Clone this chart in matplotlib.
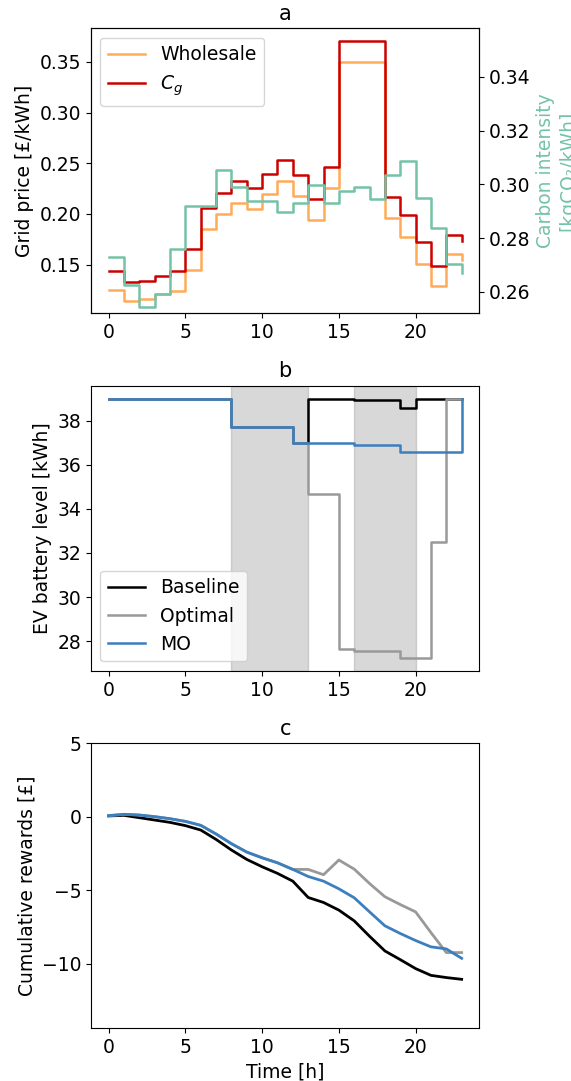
import matplotlib
matplotlib.use('Agg')
import matplotlib.pyplot as plt

plt.rcParams['font.family'] = ['DejaVu Sans']
plt.rcParams['font.size'] = 13.5

hours = list(range(24))

# panel a: prices (left axis) and carbon intensity (right axis)
wholesale = [0.1246, 0.114, 0.1163, 0.1206, 0.124, 0.1446, 0.1848, 0.1997,
             0.2108, 0.2049, 0.220, 0.2322, 0.2177, 0.1937, 0.2256, 0.35,
             0.35, 0.35, 0.196, 0.1773, 0.151, 0.1289, 0.161, 0.155]
c_g = [0.1437, 0.1325, 0.134, 0.139, 0.1437, 0.165, 0.2056, 0.221,
       0.2322, 0.2256, 0.2398, 0.253, 0.2388, 0.2145, 0.2464, 0.3704,
       0.3704, 0.3704, 0.2167, 0.1987, 0.1723, 0.1486, 0.1796, 0.173]
carbon = [0.2730, 0.2625, 0.2545, 0.2591, 0.2760, 0.2918, 0.2918, 0.3054,
          0.2990, 0.2937, 0.2937, 0.2896, 0.2930, 0.2999, 0.2930, 0.2974,
          0.2989, 0.2946, 0.3033, 0.3085, 0.2948, 0.2836, 0.2705, 0.2670]

# panel b: EV battery level [kWh]
battery_baseline = [39.0] * 8 + [37.73] * 4 + [36.97] + [39.0] * 3 + [38.93] * 3 + [38.59] + [39.0] * 4
battery_optimal = [39.0] * 8 + [37.73] * 4 + [36.97] + [34.67] * 2 + [27.65] + [27.55] * 3 + [27.24] * 2 + [32.5] + [39.0] * 2
battery_mo = [39.0] * 8 + [37.73] * 4 + [36.97] * 4 + [36.88] * 3 + [36.58] * 4 + [39.0]
charging_windows = [(8, 13), (16, 20)]

# panel c: cumulative rewards [£]
rew_baseline = [0.05, 0.09, -0.07, -0.23, -0.39, -0.61, -0.91, -1.55, -2.27, -2.91,
                -3.41, -3.86, -4.39, -5.5, -5.84, -6.36, -7.09, -8.14, -9.14, -9.73,
                -10.34, -10.80, -10.95, -11.07]
rew_optimal = [0.07, 0.16, 0.11, 0.0, -0.14, -0.32, -0.59, -1.18, -1.84, -2.41,
               -2.8, -3.14, -3.59, -3.59, -3.95, -2.95, -3.57, -4.55, -5.45, -5.98,
               -6.48, -7.89, -9.25, -9.25]
rew_mo = [0.07, 0.16, 0.11, 0.0, -0.14, -0.32, -0.59, -1.18, -1.84, -2.41,
          -2.8, -3.14, -3.59, -4.07, -4.39, -4.91, -5.52, -6.48, -7.43, -7.95,
          -8.43, -8.86, -9.0, -9.64]

ORANGE = '#ffab57'
RED = '#cc0000'
TEAL = '#74c3a7'
BLUE = '#3b7fbf'
GRAY = '#999999'

fig, axes = plt.subplots(3, 1, figsize=(5.71, 10.81), dpi=100)
plt.subplots_adjust(left=0.1594, right=0.8394, top=0.9738, bottom=0.0488, hspace=0.254)

# a
ax = axes[0]
ax.plot(hours, wholesale, drawstyle='steps-post', color=ORANGE, lw=1.8, label='Wholesale')
ax.plot(hours, c_g, drawstyle='steps-post', color=RED, lw=1.8, label='$C_g$')
ax.set_ylim(0.102, 0.383)
ax.set_ylabel('Grid price [£/kWh]')
ax.set_title('a', fontsize=15)
ax.legend(loc='upper left')
ax2 = ax.twinx()
ax2.plot(hours, carbon, drawstyle='steps-post', color=TEAL, lw=1.8)
ax2.set_ylim(0.252, 0.358)
ax2.set_ylabel('Carbon intensity\n[kgCO₂/kWh]', color=TEAL)

# b
ax = axes[1]
for start, end in charging_windows:
    ax.axvspan(start, end, color='gray', alpha=0.3)
ax.plot(hours, battery_baseline, drawstyle='steps-post', color='black', lw=1.8, label='Baseline')
ax.plot(hours, battery_optimal, drawstyle='steps-post', color=GRAY, lw=1.8, label='Optimal')
ax.plot(hours, battery_mo, drawstyle='steps-post', color=BLUE, lw=1.8, label='MO')
ax.set_ylabel('EV battery level [kWh]')
ax.set_title('b', fontsize=15)
ax.legend(loc='lower left')

# c
ax = axes[2]
ax.plot(hours, rew_baseline, color='black', lw=2)
ax.plot(hours, rew_optimal, color=GRAY, lw=2)
ax.plot(hours, rew_mo, color=BLUE, lw=2)
ax.set_ylim(-14.4, 5)
ax.set_ylabel('Cumulative rewards [£]')
ax.set_xlabel('Time [h]')
ax.set_title('c', fontsize=15)

plt.savefig('out.png', dpi=100)
